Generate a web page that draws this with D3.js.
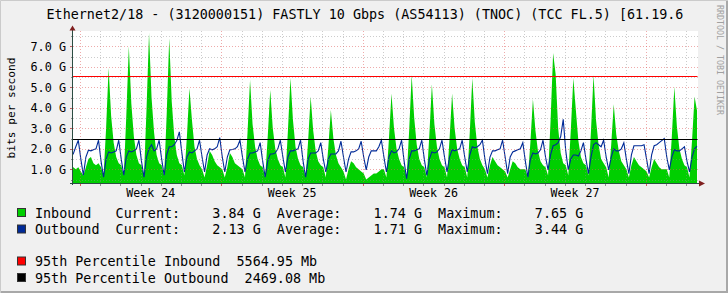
<!DOCTYPE html>
<html><head><meta charset="utf-8">
<script src="https://cdn.jsdelivr.net/npm/d3@7"></script>
<style>
html,body{margin:0;padding:0;background:#F0F0F0;}
svg{display:block;}
text{font-family:"DejaVu Sans Mono",monospace;white-space:pre;}
</style>
</head><body>
<svg id="c" width="728" height="293"></svg>
<script>
// ---------- data ----------
const titleText = "Ethernet2/18 - (3120000151) FASTLY 10 Gbps (AS54113) (TNOC) (TCC FL.5) [61.19.6";
const yLabelValues = [1, 2, 3, 4, 5, 6, 7];
const yLabelTexts = ["1.0 G", "2.0 G", "3.0 G", "4.0 G", "5.0 G", "6.0 G", "7.0 G"];
const yMinorValues = [0.5, 1.5, 2.5, 3.5, 4.5, 5.5, 6.5, 7.5];
const weekLabels = ["Week 24", "Week 25", "Week 26", "Week 27"];
const weekStartHours = [0, 168, 336, 504, 672];
const dayStartHours = [24, 48, 72, 96, 120, 144, 192, 216, 240, 264, 288, 312, 360, 384, 408, 432, 456, 480, 528, 552, 576, 600, 624, 648, 696, 720];
const sampleStartHour = -11;   // hours relative to start of Week 24
const sampleStepHours = 3;

// Inbound (G bits/s), one sample every 3 hours
const inbound = [
  1.2, 1.1, 1.0, 1.1,
  0.9, 0.7, 1.1, 1.5, 1.6, 1.3, 1.2, 1.3,
  1.1, 0.7, 3.0, 5.94, 3.6, 2.3, 1.6, 1.3,
  1.2, 0.7, 3.6, 7.0, 4.2, 2.6, 1.7, 1.3,
  1.2, 0.7, 3.9, 7.65, 4.5, 2.8, 1.7, 1.3,
  1.2, 0.7, 3.7, 7.4, 4.3, 2.6, 1.7, 1.3,
  1.2, 0.7, 2.6, 4.95, 3.4, 2.1, 1.5, 1.2,
  1.0, 0.6, 1.2, 1.9, 1.7, 1.4, 1.2, 1.1,
  1.0, 0.6, 1.1, 1.8, 1.6, 1.3, 1.2, 1.1,
  1.0, 0.6, 2.8, 5.36, 3.2, 2.1, 1.5, 1.2,
  1.1, 0.6, 2.6, 4.87, 3.0, 2.0, 1.5, 1.2,
  1.1, 0.6, 2.9, 5.45, 3.4, 2.1, 1.5, 1.2,
  1.1, 0.6, 2.4, 4.55, 2.9, 1.9, 1.4, 1.2,
  1.1, 0.6, 2.1, 3.9, 2.5, 1.7, 1.3, 1.1,
  0.9, 0.5, 1.0, 1.4, 1.3, 1.1, 1.0, 0.9,
  0.8, 0.5, 0.6, 0.7, 0.8, 0.8, 0.9, 1.0,
  1.0, 0.6, 2.5, 4.7, 3.0, 2.0, 1.5, 1.2,
  1.1, 0.6, 2.9, 5.6, 3.5, 2.2, 1.5, 1.2,
  1.1, 0.6, 2.7, 5.15, 3.2, 2.1, 1.5, 1.2,
  1.1, 0.6, 2.5, 4.7, 3.0, 2.0, 1.5, 1.2,
  1.1, 0.6, 2.8, 5.45, 3.3, 2.1, 1.5, 1.2,
  1.0, 0.6, 1.2, 1.6, 1.4, 1.2, 1.1, 1.0,
  0.9, 0.6, 1.0, 1.4, 1.3, 1.1, 1.0, 1.0,
  1.0, 0.6, 2.3, 4.43, 2.9, 1.9, 1.4, 1.2,
  1.1, 0.7, 3.4, 6.67, 5.64, 3.0, 1.8, 1.3,
  1.2, 0.7, 2.9, 5.45, 3.9, 2.4, 1.6, 1.3,
  1.2, 0.7, 2.9, 5.6, 3.4, 2.2, 1.5, 1.3,
  1.1, 0.6, 2.2, 4.17, 2.7, 1.9, 1.4, 1.2,
  1.0, 0.6, 1.2, 1.6, 1.4, 1.2, 1.1, 1.0,
  0.9, 0.6, 1.1, 1.5, 1.3, 1.1, 1.0, 1.0,
  1.0, 0.6, 2.6, 5.03, 3.1, 2.0, 1.5, 1.2,
  1.1, 0.6, 2.4, 4.55, 3.84
];

// Outbound (G bits/s), one sample every 3 hours
const outbound = [
  1.7, 1.75, 2.1, 2.42,
  1.5, 0.72, 1.6, 1.93, 1.9, 1.95, 2.0, 2.42,
  1.4, 0.62, 1.5, 1.85, 1.8, 1.85, 1.9, 2.42,
  1.5, 0.71, 1.6, 1.9, 1.85, 1.9, 2.0, 2.42,
  1.4, 0.62, 1.6, 2.0, 2.2, 1.9, 2.0, 2.42,
  1.5, 0.71, 1.7, 2.1, 2.1, 2.2, 2.4, 2.83,
  1.8, 0.87, 1.6, 1.85, 1.8, 1.9, 2.0, 2.42,
  1.6, 0.87, 1.7, 2.0, 1.95, 2.0, 2.1, 2.55,
  1.6, 0.87, 1.6, 1.95, 1.97, 2.0, 2.1, 2.42,
  1.6, 0.87, 1.5, 1.8, 1.8, 1.85, 1.9, 2.3,
  1.4, 0.62, 1.4, 1.75, 1.75, 1.8, 2.0, 2.42,
  1.6, 0.87, 1.6, 1.9, 1.9, 1.95, 2.0, 2.42,
  1.4, 0.62, 1.5, 1.8, 1.8, 1.8, 1.9, 2.3,
  1.5, 0.87, 1.5, 1.75, 1.75, 1.75, 1.9, 2.37,
  1.6, 0.87, 1.5, 1.85, 1.85, 1.9, 2.0, 2.37,
  1.6, 0.97, 1.6, 1.9, 1.9, 1.9, 2.1, 2.42,
  1.6, 0.87, 1.6, 1.9, 1.8, 1.85, 2.0, 2.42,
  1.4, 0.54, 1.5, 1.9, 1.9, 1.95, 2.0, 2.42,
  1.5, 0.7, 1.5, 1.85, 1.8, 1.85, 2.0, 2.42,
  1.6, 0.87, 1.6, 1.95, 1.9, 1.95, 2.0, 2.42,
  1.6, 0.87, 1.7, 2.1, 2.05, 2.1, 2.2, 2.42,
  1.5, 0.79, 1.6, 1.9, 1.9, 1.95, 2.0, 2.42,
  1.6, 0.79, 1.6, 1.85, 1.9, 1.95, 2.0, 2.3,
  1.4, 0.62, 1.5, 1.8, 1.75, 1.8, 1.95, 2.42,
  1.6, 0.97, 1.7, 2.15, 2.2, 2.3, 2.6, 3.44,
  1.9, 0.97, 1.5, 1.7, 1.7, 1.65, 1.9, 2.3,
  1.5, 0.79, 1.6, 2.2, 2.3, 2.2, 2.1, 2.42,
  1.6, 0.97, 1.6, 2.0, 1.9, 1.9, 2.0, 2.3,
  1.5, 0.79, 1.7, 2.15, 2.15, 2.15, 2.15, 2.2,
  1.5, 0.79, 1.7, 2.15, 2.2, 2.3, 2.4, 2.5,
  1.6, 0.97, 1.6, 1.95, 1.9, 1.9, 2.0, 2.1,
  1.4, 0.87, 1.6, 2.0, 2.13
];

const percentileIn = 5.56495;   // G
const percentileOut = 2.46908;  // G

const legendSeriesNames = ["Inbound", "Outbound"];
const legendCurrent = ["3.84 G", "2.13 G"];
const legendAverage = ["1.74 G", "1.71 G"];
const legendMaximum = ["7.65 G", "3.44 G"];
const legendPctTexts = ["95th Percentile Inbound  5564.95 Mb", "95th Percentile Outbound  2469.08 Mb"];

const colIn = "#00CF00", colOut = "#002A97", colPctIn = "#FF0000", colPctOut = "#000000";

// ---------- drawing ----------
const svg = d3.select("#c");
const W = 728, H = 293;
const plotL = 72.5, plotR = 697.5, plotT = 31, plotB = 183;

svg.append("rect").attr("width", W).attr("height", H).attr("fill", "#F0F0F0");
svg.append("path").attr("d", `M0.5,${H}V0.5H${W}`).attr("stroke", "#CBCBCB").attr("fill", "none");
svg.append("path").attr("d", `M1,${H-1}H${W-1}V1`).attr("stroke", "#A8A8A8").attr("stroke-width", 2).attr("fill", "none");

const x = d3.scaleLinear().domain([-8.9, 733.5]).range([plotL, plotR]);
const y = d3.scaleLinear().domain([0.333, 7.65]).range([plotB, 33]);

svg.append("rect").attr("x", 73).attr("y", plotT).attr("width", plotR - 73 + 0.5).attr("height", plotB - plotT).attr("fill", "#FFFFFF");

const defs = svg.append("defs");
defs.append("clipPath").attr("id", "clip").append("rect")
  .attr("x", 73).attr("y", 33).attr("width", plotR - 73).attr("height", plotB - 33);

const samples = inbound.map((v, i) => ({ t: sampleStartHour + i * sampleStepHours, vin: v, vout: outbound[i] }));

const data = svg.append("g").attr("clip-path", "url(#clip)");
data.append("path").datum(samples)
  .attr("d", d3.area().x(d => x(d.t)).y0(plotB).y1(d => y(d.vin)))
  .attr("fill", colIn);

// grid
const grid = svg.append("g").attr("stroke-dasharray", "1,2").attr("shape-rendering", "crispEdges");
yMinorValues.forEach(v => {
  if (y(v) < plotT || y(v) > plotB) return;
  grid.append("line").attr("x1", plotL).attr("x2", plotR).attr("y1", Math.round(y(v)) + 0.5).attr("y2", Math.round(y(v)) + 0.5)
    .attr("stroke", "#8F8F8F").attr("stroke-opacity", 0.45);
});
dayStartHours.forEach(h => {
  grid.append("line").attr("x1", Math.round(x(h)) + 0.5).attr("x2", Math.round(x(h)) + 0.5).attr("y1", plotT).attr("y2", plotB)
    .attr("stroke", "#8F8F8F").attr("stroke-opacity", 0.45);
});
yLabelValues.forEach(v => {
  grid.append("line").attr("x1", plotL).attr("x2", plotR).attr("y1", Math.round(y(v)) + 0.5).attr("y2", Math.round(y(v)) + 0.5)
    .attr("stroke", "#DE5757").attr("stroke-opacity", 0.5);
});
weekStartHours.forEach(h => {
  grid.append("line").attr("x1", Math.round(x(h)) + 0.5).attr("x2", Math.round(x(h)) + 0.5).attr("y1", plotT).attr("y2", plotB)
    .attr("stroke", "#DE5757").attr("stroke-opacity", 0.5);
});

data.append("path").datum(samples)
  .attr("d", d3.line().x(d => x(d.t)).y(d => y(d.vout)))
  .attr("fill", "none").attr("stroke", colOut).attr("stroke-width", 1.1);

// HRULE percentiles
[[percentileIn, colPctIn], [percentileOut, colPctOut]].forEach(([v, c]) => {
  svg.append("line").attr("x1", plotL).attr("x2", plotR)
    .attr("y1", Math.round(y(v)) + 0.5).attr("y2", Math.round(y(v)) + 0.5)
    .attr("stroke", c).attr("stroke-width", 1.2);
});

// ticks
const ticks = svg.append("g").attr("shape-rendering", "crispEdges");
yMinorValues.forEach(v => {
  if (y(v) < plotT || y(v) > plotB) return;
  ticks.append("line").attr("x1", plotL - 2).attr("x2", plotL).attr("y1", Math.round(y(v)) + 0.5).attr("y2", Math.round(y(v)) + 0.5).attr("stroke", "#8F8F8F");
});
yLabelValues.forEach(v => {
  ticks.append("line").attr("x1", plotL - 3).attr("x2", plotL).attr("y1", Math.round(y(v)) + 0.5).attr("y2", Math.round(y(v)) + 0.5).attr("stroke", "#C06060");
});
dayStartHours.forEach(h => {
  ticks.append("line").attr("x1", Math.round(x(h)) + 0.5).attr("x2", Math.round(x(h)) + 0.5).attr("y1", plotB).attr("y2", plotB + 2.5).attr("stroke", "#8F8F8F");
});
weekStartHours.forEach(h => {
  ticks.append("line").attr("x1", Math.round(x(h)) + 0.5).attr("x2", Math.round(x(h)) + 0.5).attr("y1", plotB).attr("y2", plotB + 3).attr("stroke", "#DE5757");
});

// axes
const axisCol = "#2C4D43", arrowCol = "#7F1F1F";
svg.append("line").attr("x1", plotL).attr("x2", plotL).attr("y1", plotB + 2).attr("y2", 29).attr("stroke", axisCol).attr("shape-rendering", "crispEdges");
svg.append("line").attr("x1", plotL - 3).attr("x2", 700).attr("y1", plotB + 0.5).attr("y2", plotB + 0.5).attr("stroke", axisCol).attr("shape-rendering", "crispEdges");
svg.append("path").attr("d", `M${plotL-3},30.5L${plotL+3},30.5L${plotL},25.5Z`).attr("fill", arrowCol);
svg.append("path").attr("d", `M699,${plotB-2.5}L699,${plotB+3.5}L705,${plotB+0.5}Z`).attr("fill", arrowCol);

// axis labels
yLabelValues.forEach((v, i) => {
  svg.append("text").attr("x", 66).attr("y", y(v) + 4.2).attr("text-anchor", "end")
    .attr("font-size", "11.8px").attr("fill", "#000").text(yLabelTexts[i]);
});
weekLabels.forEach((l, i) => {
  svg.append("text").attr("x", x(weekStartHours[i] + 84)).attr("y", 197).attr("text-anchor", "middle")
    .attr("font-size", "11.6px").attr("fill", "#000").text(l);
});
svg.append("text").attr("transform", "translate(14.5,108) rotate(-90)").attr("text-anchor", "middle")
  .attr("font-size", "11.2px").attr("fill", "#000").text("bits per second");

// watermark
svg.append("text").attr("transform", "translate(716.5,60) rotate(90)").attr("text-anchor", "middle")
  .attr("font-size", "8.3px").attr("fill", "#A0A0A0").text("RRDTOOL / TOBI OETIKER");

// title
svg.append("text").attr("x", 365).attr("y", 18.5).attr("text-anchor", "middle")
  .attr("font-size", "13.4px").attr("fill", "#000").text(titleText);

// legend
const legFont = "13.4px";
const legX = 35;
const rowsY = [213, 229.5];
function legendBox(cy, col) {
  svg.append("rect").attr("x", 17.5).attr("y", cy - 4.5).attr("width", 8).attr("height", 8)
    .attr("fill", col).attr("stroke", "#333").attr("stroke-width", 1);
}
legendSeriesNames.forEach((n, i) => {
  legendBox(rowsY[i], i === 0 ? colIn : colOut);
  const s = n.padEnd(10, " ") + "Current:    " + legendCurrent[i] + "  Average:    " + legendAverage[i] + "  Maximum:    " + legendMaximum[i];
  svg.append("text").attr("x", legX).attr("y", rowsY[i] + 4.6).attr("font-size", legFont).attr("fill", "#000").text(s);
});
const pctY = [261.5, 278];
legendPctTexts.forEach((s, i) => {
  legendBox(pctY[i], i === 0 ? colPctIn : colPctOut);
  svg.append("text").attr("x", legX).attr("y", pctY[i] + 4.6).attr("font-size", legFont).attr("fill", "#000").text(s);
});
</script>
</body></html>
